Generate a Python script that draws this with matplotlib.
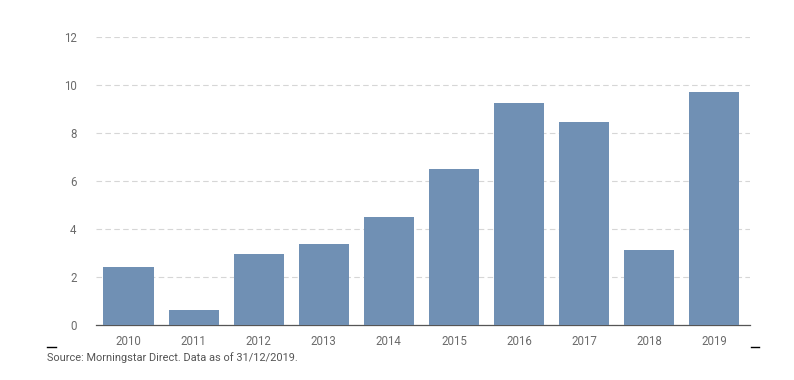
import matplotlib
matplotlib.use("Agg")
import matplotlib.pyplot as plt
from matplotlib.lines import Line2D

plt.rcParams['font.family'] = ['Roboto', 'DejaVu Sans']

years = ['2010', '2011', '2012', '2013', '2014', '2015', '2016', '2017', '2018', '2019']
values = [2.4, 0.62, 2.96, 3.37, 4.5, 6.5, 9.25, 8.46, 3.13, 9.72]
y_ticks = [0, 2, 4, 6, 8, 10, 12]

bar_color = '#7090B4'
text_color = '#6b6b6b'

fig = plt.figure(figsize=(7.94, 3.80), dpi=100)
ax = fig.add_axes([0.1209, 0.1447, 0.8237, 0.758])

x = list(range(len(years)))
ax.bar(x, values, width=0.77, color=bar_color, zorder=3)

ax.set_xlim(-0.5, 9.55)
ax.set_ylim(0, 12)
ax.set_yticks(y_ticks)
ax.set_yticklabels([str(v) for v in y_ticks])
ax.set_xticks(x)
ax.set_xticklabels(years)

ax.grid(axis='y', color='#d6d6d6', linestyle=(0, (5, 3)), linewidth=0.8, zorder=0)
for side in ['top', 'right', 'left']:
    ax.spines[side].set_visible(False)
ax.spines['bottom'].set_color('#555555')
ax.spines['bottom'].set_linewidth(0.9)
ax.tick_params(axis='both', length=0, labelsize=8.3, labelcolor=text_color)
ax.tick_params(axis='y', pad=14)
ax.tick_params(axis='x', pad=7)

fig.text(47 / 794, 1 - 358 / 380, 'Source: Morningstar Direct. Data as of 31/12/2019.',
         fontsize=7.9, color='#555555', va='center', ha='left')

# small marks under the chart
fig.add_artist(Line2D([47 / 794, 56 / 794], [1 - 347 / 380] * 2, color='black', linewidth=1))
fig.add_artist(Line2D([751 / 794, 759 / 794], [1 - 347 / 380] * 2, color='black', linewidth=1))

fig.savefig('out.png', dpi=100)
